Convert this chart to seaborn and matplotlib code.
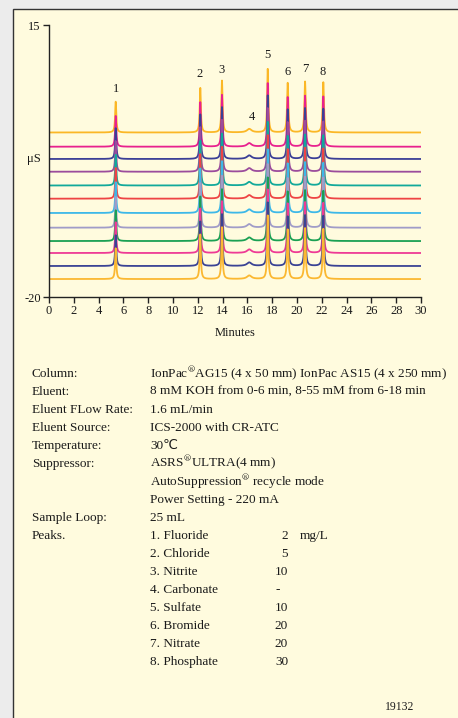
import numpy as np
import pandas as pd
import seaborn as sns
import matplotlib.pyplot as plt
from matplotlib.patches import Rectangle

# peaks (minutes, µS above baseline, half width in min)
retention_times = [5.38, 12.2, 13.95, 16.15, 17.64, 19.25, 20.65, 22.12]
peak_heights = [3.96, 5.73, 6.67, 0.45, 8.17, 6.37, 6.54, 6.46]
peak_widths = [0.055, 0.055, 0.055, 0.22, 0.055, 0.06, 0.06, 0.06]
peak_labels = ['1', '2', '3', '4', '5', '6', '7', '8']

# baseline of each stacked run, top run first
baselines = [1.17, -0.66, -2.24, -3.88, -5.65, -7.35, -9.19, -11.08,
             -12.80, -14.34, -16.01, -17.69]
trace_colors = ['#fbb726', '#e8218e', '#3b3f96', '#9b4c9c', '#12a99a', '#ee4444',
                '#3db8e8', '#a09cc8', '#1aa053', '#ee3a95', '#3a4394', '#fbb831']

x_ticks = list(range(0, 31, 2))
y_ticks = [15, -20]

param_names = ['Column:', 'Eluent:', 'Eluent FLow Rate:', 'Eluent Source:',
               'Temperature:', 'Suppressor:', '', '', 'Sample Loop:', 'Peaks.']
param_values = [r'IonPac$^{\circledR}$AG15 (4 x 50 mm) IonPac AS15 (4 x 250 mm)',
                '8 mM KOH from 0-6 min, 8-55 mM from 6-18 min',
                '1.6 mL/min',
                'ICS-2000 with CR-ATC',
                '30℃',
                r'ASRS$^{\circledR}$ULTRA(4 mm)',
                r'AutoSuppression$^{\circledR}$ recycle mode',
                'Power Setting - 220 mA',
                '25 mL']
peak_names = ['1. Fluoride', '2. Chloride', '3. Nitrite', '4. Carbonate',
              '5. Sulfate', '6. Bromide', '7. Nitrate', '8. Phosphate']
peak_conc = ['2', '5', '10', '-', '10', '20', '20', '30']

# build the traces
t = np.linspace(0, 30, 6001)
rows = []
for i, base in enumerate(baselines):
    sig = np.full_like(t, base)
    for rt, h, w in zip(retention_times, peak_heights, peak_widths):
        sig += h / (1 + ((t - rt) / w) ** 2)
    rows.append(pd.DataFrame({'Minutes': t, 'uS': sig, 'run': f'r{i:02d}'}))
df = pd.concat(rows, ignore_index=True)

sns.set_style('ticks')
serif = ['Liberation Serif', 'DejaVu Sans']
plt.rcParams['font.family'] = serif
plt.rcParams['mathtext.fontset'] = 'stix'
ink = '#1a1a1a'

W, H = 458, 718
fig = plt.figure(figsize=(W / 100, H / 100), dpi=100)
fig.patch.set_facecolor('#ececec')
fig.patches.append(Rectangle((12.5 / W, -0.05), 1.1, 1 - 9 / H + 0.05,
                             transform=fig.transFigure, facecolor='#fffbde',
                             edgecolor='#333333', lw=1.0, zorder=-5))

ax = fig.add_axes([49 / W, 1 - 297 / H, 372 / W, 272 / H])
ax.set_facecolor('none')

sns.lineplot(data=df, x='Minutes', y='uS', hue='run',
             hue_order=[f'r{i:02d}' for i in range(len(baselines))],
             palette=trace_colors, estimator=None, legend=False,
             linewidth=1.3, ax=ax)

ax.set_xlim(0, 30)
ax.set_ylim(-20, 15)
ax.set_xticks(x_ticks)
ax.set_yticks(y_ticks)
ax.set_xticklabels([str(v) for v in x_ticks])
ax.set_yticklabels([str(v) for v in y_ticks])
sns.despine(ax=ax)
for sp in ['left', 'bottom']:
    ax.spines[sp].set_color('#222222')
    ax.spines[sp].set_linewidth(1.0)
ax.tick_params(axis='both', direction='out', length=4, width=1.0,
               color='#222222', labelsize=9, labelcolor=ink, pad=2)
ax.set_xlabel('Minutes', fontsize=9, color=ink, labelpad=7)
ax.set_ylabel('')
ax.text(-0.021, 1 - (159 - 25) / 272, 'μS', transform=ax.transAxes,
        ha='right', va='center', fontsize=9, color=ink)

# peak numbers above the top run
gaps_px = [6.7, 8, 5, 6, 8.3, 5, 7, 4]
dx_px = [0, -1, -0.7, 2.7, 0, 0, 0, -0.7]
for lbl, rt, h, g, dx in zip(peak_labels, retention_times, peak_heights, gaps_px, dx_px):
    ax.annotate(lbl, xy=(rt, baselines[0] + h), xytext=(dx * 0.72, g * 0.72),
                textcoords='offset points', ha='center', va='bottom',
                fontsize=9, color=ink)

# conditions block, all lines share a common baseline grid
def put(xp, yp, s, **kw):
    if '$' in s:
        yp += 0.5  # mathtext sits a touch high
    fig.text(xp / W, 1 - (yp + 4) / H, s, va='baseline', fontsize=9.5,
             color=ink, family=serif, **kw)

step = 17.98
y0 = 373
for k, name in enumerate(param_names):
    if name:
        put(32, y0 + k * step, name)
for k, val in enumerate(param_values):
    put(150, y0 + k * step, val)
for k, (nm, c) in enumerate(zip(peak_names, peak_conc)):
    yy = y0 + (9 + k) * step
    put(150, yy, nm)
    if c == '-':
        put(275, yy, c)
    else:
        put(288, yy, c, ha='right')
put(300, y0 + 9 * step, 'mg/L')
fig.text(400 / W, 1 - 707 / H, '19132', ha='center', va='center',
         fontsize=8.4, color=ink, family=serif)

fig.savefig('out.png', dpi=100, facecolor=fig.get_facecolor())
